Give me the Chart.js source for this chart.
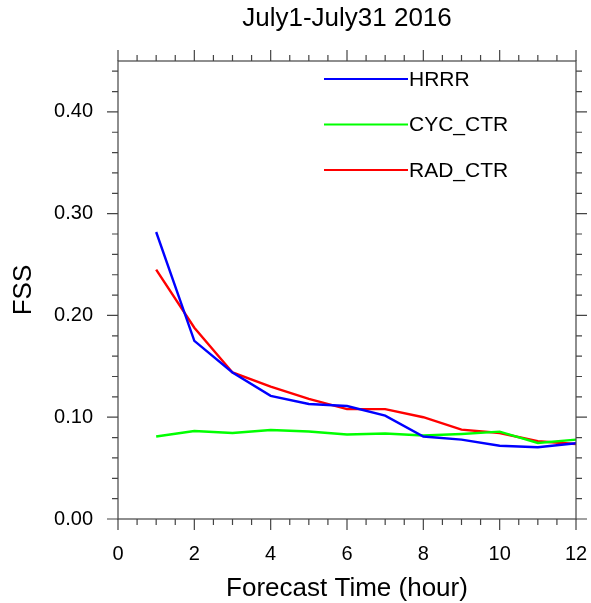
<!DOCTYPE html>
<html>
<head>
<meta charset="utf-8">
<script src="https://cdn.jsdelivr.net/npm/chart.js@4"></script>
<style>
  html, body { margin: 0; padding: 0; background: #fff; }
  canvas { display: block; }
</style>
</head>
<body>
<canvas id="fss" width="591" height="603"></canvas>
<script>
// forecast hours
const hours = [1, 2, 3, 4, 5, 6, 7, 8, 9, 10, 11, 12];

const hrrr   = [0.282, 0.175, 0.144, 0.121, 0.113, 0.111, 0.1015, 0.081, 0.078, 0.072, 0.0705, 0.0744];
const cycCtr = [0.081, 0.0865, 0.0845, 0.0875, 0.086, 0.083, 0.084, 0.082, 0.0835, 0.0858, 0.0747, 0.078];
const radCtr = [0.245, 0.188, 0.144, 0.130, 0.118, 0.108, 0.108, 0.100, 0.0878, 0.0845, 0.0764, 0.0737];

const seriesNames = ['HRRR', 'CYC_CTR', 'RAD_CTR'];
const seriesColors = ['#0000ff', '#00ff00', '#ff0000'];

// axis ticks
const xMajor = [0, 2, 4, 6, 8, 10, 12];
const yMajor = [0, 0.1, 0.2, 0.3, 0.4];
const yLabels = ['0.00', '0.10', '0.20', '0.30', '0.40'];

const FONT = '"Liberation Sans", Arial, Helvetica, sans-serif';

function pts(vals) {
  return hours.map((h, i) => ({ x: h, y: vals[i] }));
}

// NCL-ish frame: box, outward major/minor ticks, labels, titles, legend
const nclFrame = {
  id: 'nclFrame',
  afterDraw(chart) {
    const ctx = chart.ctx;
    const a = chart.chartArea;
    const xs = chart.scales.x, ys = chart.scales.y;
    ctx.save();
    ctx.strokeStyle = '#444';
    ctx.lineWidth = 1.2;
    ctx.strokeRect(a.left, a.top, a.right - a.left, a.bottom - a.top);

    ctx.beginPath();
    // x ticks every 0.5, major every 2
    for (let v = 0; v <= 12.001; v += 0.5) {
      const px = xs.getPixelForValue(v);
      const len = (Math.abs(v % 2) < 0.001) ? 11 : 6;
      ctx.moveTo(px, a.bottom); ctx.lineTo(px, a.bottom + len);
      ctx.moveTo(px, a.top); ctx.lineTo(px, a.top - len);
    }
    // y ticks every 0.02, major every 0.1
    for (let k = 0; k <= 22; k++) {
      const v = k * 0.02;
      const py = ys.getPixelForValue(v);
      const len = (k % 5 === 0) ? 11 : 6;
      ctx.moveTo(a.left, py); ctx.lineTo(a.left - len, py);
      ctx.moveTo(a.right, py); ctx.lineTo(a.right + len, py);
    }
    ctx.stroke();

    ctx.fillStyle = '#000';
    ctx.font = '20px ' + FONT;
    ctx.textBaseline = 'middle';
    ctx.textAlign = 'center';
    xMajor.forEach(v => ctx.fillText(String(v), xs.getPixelForValue(v), a.bottom + 35));
    ctx.textAlign = 'right';
    yMajor.forEach((v, i) => ctx.fillText(yLabels[i], 93, ys.getPixelForValue(v)));

    ctx.font = '26px ' + FONT;
    ctx.textAlign = 'center';
    ctx.fillText('July1-July31 2016', (a.left + a.right) / 2, 19);
    ctx.fillText('Forecast Time (hour)', (a.left + a.right) / 2, 589);
    ctx.save();
    ctx.translate(24, (a.top + a.bottom) / 2);
    ctx.rotate(-Math.PI / 2);
    ctx.fillText('FSS', 0, 0);
    ctx.restore();

    // legend
    ctx.font = '21px ' + FONT;
    ctx.textAlign = 'left';
    ctx.lineWidth = 2.2;
    chart.data.datasets.forEach((ds, i) => {
      const y = 79 + i * 45.5;
      ctx.strokeStyle = ds.borderColor;
      ctx.beginPath();
      ctx.moveTo(324, y); ctx.lineTo(408, y);
      ctx.stroke();
      ctx.fillText(ds.label, 409, y + 1);
    });
    ctx.restore();
  }
};

new Chart(document.getElementById('fss'), {
  type: 'line',
  data: {
    datasets: [hrrr, cycCtr, radCtr].map((vals, i) => ({
      label: seriesNames[i],
      data: pts(vals),
      borderColor: seriesColors[i],
      backgroundColor: seriesColors[i],
      borderWidth: 2.4,
      pointRadius: 0,
      tension: 0,
      fill: false
    }))
  },
  options: {
    responsive: false,
    animation: false,
    layout: { padding: { left: 118, top: 61, right: 15, bottom: 84 } },
    plugins: { legend: { display: false }, tooltip: { enabled: false } },
    scales: {
      x: { type: 'linear', min: 0, max: 12, display: false },
      y: { type: 'linear', min: 0, max: 0.45, display: false }
    }
  },
  plugins: [nclFrame]
});
</script>
</body>
</html>
